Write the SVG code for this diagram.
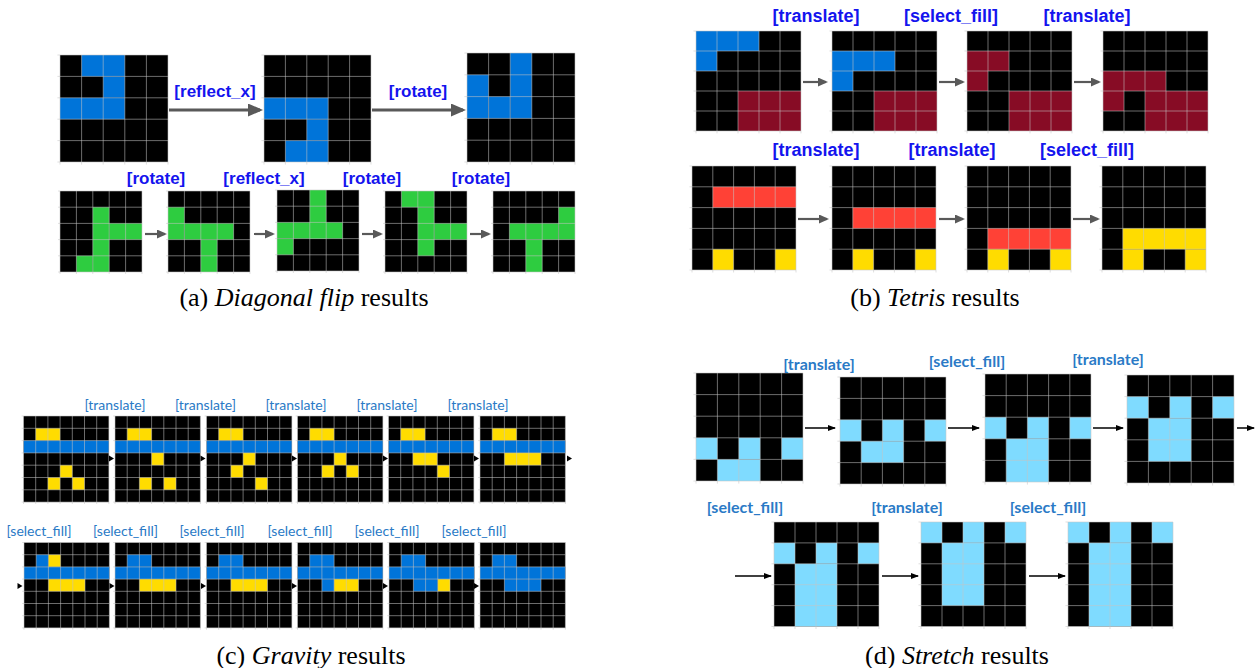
<svg xmlns="http://www.w3.org/2000/svg" xmlns:xlink="http://www.w3.org/1999/xlink" width="1256" height="668" viewBox="0 0 1256 668">
<style>
.k{fill:#000}
.B{fill:#0074D9}.M{fill:#870C25}.G{fill:#2ECC40}.R{fill:#FF4136}.Y{fill:#FFDC00}.L{fill:#7FDBFF}
.gl{fill:none;stroke:#c4c4c4;stroke-opacity:0.55;stroke-width:1;vector-effect:non-scaling-stroke}
.la{font-family:"Liberation Sans",Arial,sans-serif;font-weight:bold;fill:#1414ee;text-anchor:middle}
.lc{font-family:Lato,"Liberation Sans",Arial,sans-serif;font-size:14px;fill:#2a7ac6;text-anchor:middle}
.ld{font-family:Lato,"Liberation Sans",Arial,sans-serif;font-weight:bold;font-size:16px;fill:#2a7ac6;text-anchor:middle}
.cap{font-family:"Liberation Serif","Times New Roman",serif;font-size:26px;fill:#000;text-anchor:middle}
.ag{stroke:#595959;fill:none}
.ab{stroke:#000;fill:none;stroke-width:1.5}
</style>
<defs>
<rect id="k5" class="k" width="5" height="5"/>
<rect id="k7" class="k" width="7" height="7"/>
<path id="g5" class="gl" d="M0,0V5.12M1,0V5.12M2,0V5.12M3,0V5.12M4,0V5.12M5,0V5.12M-0.12,0H5M-0.12,1H5M-0.12,2H5M-0.12,3H5M-0.12,4H5M-0.12,5H5"/>
<path id="g7" class="gl" d="M0,0V7.15M1,0V7.15M2,0V7.15M3,0V7.15M4,0V7.15M5,0V7.15M6,0V7.15M7,0V7.15M-0.15,0H7M-0.15,1H7M-0.15,2H7M-0.15,3H7M-0.15,4H7M-0.15,5H7M-0.15,6H7M-0.15,7H7"/>
<marker id="mA" markerUnits="userSpaceOnUse" markerWidth="15" markerHeight="13" refX="12" refY="6.5" orient="auto"><path d="M0,0L15,6.5L0,13z" fill="#595959"/></marker>
<marker id="mS" markerUnits="userSpaceOnUse" markerWidth="10" markerHeight="9" refX="8" refY="4.5" orient="auto"><path d="M0,0L10,4.5L0,9z" fill="#595959"/></marker>
<marker id="mK" markerUnits="userSpaceOnUse" markerWidth="8" markerHeight="6" refX="7" refY="3" orient="auto"><path d="M0,0L8,3L0,6z" fill="#000"/></marker>
</defs>

<!-- Panel (a) -->
<g id="a1" transform="translate(60,55) scale(21.6,21.4)"><use href="#k5"/><rect class="B" x="1" y="0" width="2" height="1"/><rect class="B" x="2" y="1" width="1" height="1"/><rect class="B" x="0" y="2" width="3" height="1"/><use href="#g5"/></g>
<g id="a2" transform="translate(264,55) scale(21.4,21.4)"><use href="#k5"/><rect class="B" x="0" y="2" width="3" height="1"/><rect class="B" x="2" y="3" width="1" height="1"/><rect class="B" x="1" y="4" width="2" height="1"/><use href="#g5"/></g>
<g id="a3" transform="translate(467,53) scale(21.6,21.8)"><use href="#k5"/><rect class="B" x="2" y="0" width="1" height="3"/><rect class="B" x="0" y="1" width="1" height="2"/><rect class="B" x="1" y="2" width="1" height="1"/><use href="#g5"/></g>
<g id="a4" transform="translate(60,191) scale(16.4,16.2)"><use href="#k5"/><rect class="G" x="2" y="1" width="1" height="4"/><rect class="G" x="3" y="2" width="2" height="1"/><rect class="G" x="1" y="4" width="1" height="1"/><use href="#g5"/></g>
<g id="a5" transform="translate(168,191) scale(16.4,16.2)"><use href="#k5"/><rect class="G" x="0" y="1" width="1" height="2"/><rect class="G" x="1" y="2" width="3" height="1"/><rect class="G" x="2" y="3" width="1" height="2"/><use href="#g5"/></g>
<g id="a6" transform="translate(277,190) scale(16.4,16.2)"><use href="#k5"/><rect class="G" x="2" y="0" width="1" height="3"/><rect class="G" x="0" y="2" width="4" height="1"/><rect class="G" x="0" y="3" width="1" height="1"/><use href="#g5"/></g>
<g id="a7" transform="translate(385,191) scale(16.4,16.2)"><use href="#k5"/><rect class="G" x="1" y="0" width="2" height="1"/><rect class="G" x="2" y="1" width="1" height="3"/><rect class="G" x="3" y="2" width="2" height="1"/><use href="#g5"/></g>
<g id="a8" transform="translate(493,191) scale(16.4,16.2)"><use href="#k5"/><rect class="G" x="4" y="1" width="1" height="2"/><rect class="G" x="1" y="2" width="3" height="1"/><rect class="G" x="2" y="3" width="1" height="2"/><use href="#g5"/></g>

<!-- Panel (b) -->
<g id="b1" transform="translate(696,31) scale(21,20)"><use href="#k5"/><rect class="B" x="0" y="0" width="3" height="1"/><rect class="B" x="0" y="1" width="1" height="1"/><rect class="M" x="2" y="3" width="3" height="2"/><use href="#g5"/></g>
<g id="b2" transform="translate(832,31) scale(21,20)"><use href="#k5"/><rect class="B" x="0" y="1" width="3" height="1"/><rect class="B" x="0" y="2" width="1" height="1"/><rect class="M" x="2" y="3" width="3" height="2"/><use href="#g5"/></g>
<g id="b3" transform="translate(967,31) scale(21,20)"><use href="#k5"/><rect class="M" x="0" y="1" width="2" height="1"/><rect class="M" x="0" y="2" width="1" height="1"/><rect class="M" x="2" y="3" width="3" height="2"/><use href="#g5"/></g>
<g id="b4" transform="translate(1103,31) scale(21,20)"><use href="#k5"/><rect class="M" x="0" y="2" width="3" height="1"/><rect class="M" x="0" y="3" width="1" height="1"/><rect class="M" x="2" y="3" width="3" height="2"/><use href="#g5"/></g>
<g id="b5" transform="translate(692,166) scale(20.8,20.8)"><use href="#k5"/><rect class="R" x="1" y="1" width="4" height="1"/><rect class="Y" x="1" y="4" width="1" height="1"/><rect class="Y" x="4" y="4" width="1" height="1"/><use href="#g5"/></g>
<g id="b6" transform="translate(832,166) scale(20.8,20.8)"><use href="#k5"/><rect class="R" x="1" y="2" width="4" height="1"/><rect class="Y" x="1" y="4" width="1" height="1"/><rect class="Y" x="4" y="4" width="1" height="1"/><use href="#g5"/></g>
<g id="b7" transform="translate(967,166) scale(20.8,20.8)"><use href="#k5"/><rect class="R" x="1" y="3" width="4" height="1"/><rect class="Y" x="1" y="4" width="1" height="1"/><rect class="Y" x="4" y="4" width="1" height="1"/><use href="#g5"/></g>
<g id="b8" transform="translate(1102,166) scale(20.8,20.8)"><use href="#k5"/><rect class="Y" x="1" y="3" width="4" height="1"/><rect class="Y" x="1" y="4" width="1" height="1"/><rect class="Y" x="4" y="4" width="1" height="1"/><use href="#g5"/></g>

<!-- Panel (c) top -->
<g id="c1" transform="translate(23.5,416) scale(12.2,12.3)"><use href="#k7"/><rect class="Y" x="1" y="1" width="2" height="1"/><rect class="B" x="0" y="2" width="7" height="1"/><rect class="Y" x="3" y="4" width="1" height="1"/><rect class="Y" x="2" y="5" width="1" height="1"/><rect class="Y" x="4" y="5" width="1" height="1"/><use href="#g7"/></g>
<g id="c2" transform="translate(115,416) scale(12.2,12.3)"><use href="#k7"/><rect class="Y" x="1" y="1" width="2" height="1"/><rect class="B" x="0" y="2" width="7" height="1"/><rect class="Y" x="3" y="3" width="1" height="1"/><rect class="Y" x="2" y="5" width="1" height="1"/><rect class="Y" x="4" y="5" width="1" height="1"/><use href="#g7"/></g>
<g id="c3" transform="translate(206.5,416) scale(12.2,12.3)"><use href="#k7"/><rect class="Y" x="1" y="1" width="2" height="1"/><rect class="B" x="0" y="2" width="7" height="1"/><rect class="Y" x="3" y="3" width="1" height="1"/><rect class="Y" x="2" y="4" width="1" height="1"/><rect class="Y" x="4" y="5" width="1" height="1"/><use href="#g7"/></g>
<g id="c4" transform="translate(297.5,416) scale(12.2,12.3)"><use href="#k7"/><rect class="Y" x="1" y="1" width="2" height="1"/><rect class="B" x="0" y="2" width="7" height="1"/><rect class="Y" x="3" y="3" width="1" height="1"/><rect class="Y" x="2" y="4" width="1" height="1"/><rect class="Y" x="4" y="4" width="1" height="1"/><use href="#g7"/></g>
<g id="c5" transform="translate(388.5,416) scale(12.2,12.3)"><use href="#k7"/><rect class="Y" x="1" y="1" width="2" height="1"/><rect class="B" x="0" y="2" width="7" height="1"/><rect class="Y" x="2" y="3" width="2" height="1"/><rect class="Y" x="4" y="4" width="1" height="1"/><use href="#g7"/></g>
<g id="c6" transform="translate(480,416) scale(12.2,12.3)"><use href="#k7"/><rect class="Y" x="1" y="1" width="2" height="1"/><rect class="B" x="0" y="2" width="7" height="1"/><rect class="Y" x="2" y="3" width="3" height="1"/><use href="#g7"/></g>
<!-- Panel (c) bottom -->
<g id="c7" transform="translate(24,542.5) scale(12.2,12.2)"><use href="#k7"/><rect class="B" x="1" y="1" width="1" height="1"/><rect class="Y" x="2" y="1" width="1" height="1"/><rect class="B" x="0" y="2" width="7" height="1"/><rect class="Y" x="2" y="3" width="3" height="1"/><use href="#g7"/></g>
<g id="c8" transform="translate(115,542.5) scale(12.2,12.2)"><use href="#k7"/><rect class="B" x="1" y="1" width="2" height="1"/><rect class="B" x="0" y="2" width="7" height="1"/><rect class="Y" x="2" y="3" width="3" height="1"/><use href="#g7"/></g>
<g id="c9" transform="translate(206.5,542.5) scale(12.2,12.2)"><use href="#k7"/><rect class="B" x="1" y="1" width="2" height="1"/><rect class="B" x="0" y="2" width="7" height="1"/><rect class="Y" x="2" y="3" width="3" height="1"/><use href="#g7"/></g>
<g id="c10" transform="translate(297.5,542.5) scale(12.2,12.2)"><use href="#k7"/><rect class="B" x="1" y="1" width="2" height="1"/><rect class="B" x="0" y="2" width="7" height="1"/><rect class="B" x="2" y="3" width="1" height="1"/><rect class="Y" x="3" y="3" width="2" height="1"/><use href="#g7"/></g>
<g id="c11" transform="translate(389,542.5) scale(12.2,12.2)"><use href="#k7"/><rect class="B" x="1" y="1" width="2" height="1"/><rect class="B" x="0" y="2" width="7" height="1"/><rect class="B" x="2" y="3" width="2" height="1"/><rect class="Y" x="4" y="3" width="1" height="1"/><use href="#g7"/></g>
<g id="c12" transform="translate(480,542.5) scale(12.2,12.2)"><use href="#k7"/><rect class="B" x="1" y="1" width="2" height="1"/><rect class="B" x="0" y="2" width="7" height="1"/><rect class="B" x="2" y="3" width="3" height="1"/><use href="#g7"/></g>

<!-- Panel (d) -->
<g id="d1" transform="translate(696,373) scale(21.4,21.6)"><use href="#k5"/><rect class="L" x="0" y="3" width="1" height="1"/><rect class="L" x="2" y="3" width="1" height="1"/><rect class="L" x="4" y="3" width="1" height="1"/><rect class="L" x="1" y="4" width="2" height="1"/><use href="#g5"/></g>
<g id="d2" transform="translate(840,377) scale(21.2,21.4)"><use href="#k5"/><rect class="L" x="0" y="2" width="1" height="1"/><rect class="L" x="2" y="2" width="1" height="1"/><rect class="L" x="4" y="2" width="1" height="1"/><rect class="L" x="1" y="3" width="2" height="1"/><use href="#g5"/></g>
<g id="d3" transform="translate(985,374) scale(21.2,21.6)"><use href="#k5"/><rect class="L" x="0" y="2" width="1" height="1"/><rect class="L" x="2" y="2" width="1" height="1"/><rect class="L" x="4" y="2" width="1" height="1"/><rect class="L" x="1" y="3" width="2" height="2"/><use href="#g5"/></g>
<g id="d4" transform="translate(1127,375) scale(21.4,21.6)"><use href="#k5"/><rect class="L" x="0" y="1" width="1" height="1"/><rect class="L" x="2" y="1" width="1" height="1"/><rect class="L" x="4" y="1" width="1" height="1"/><rect class="L" x="1" y="2" width="2" height="2"/><use href="#g5"/></g>
<g id="d5" transform="translate(774,522) scale(21,20.9)"><use href="#k5"/><rect class="L" x="0" y="1" width="1" height="1"/><rect class="L" x="2" y="1" width="1" height="1"/><rect class="L" x="4" y="1" width="1" height="1"/><rect class="L" x="1" y="2" width="2" height="3"/><use href="#g5"/></g>
<g id="d6" transform="translate(921,522) scale(21,20.9)"><use href="#k5"/><rect class="L" x="0" y="0" width="1" height="1"/><rect class="L" x="2" y="0" width="1" height="1"/><rect class="L" x="4" y="0" width="1" height="1"/><rect class="L" x="1" y="1" width="2" height="3"/><use href="#g5"/></g>
<g id="d7" transform="translate(1068,522) scale(21,20.9)"><use href="#k5"/><rect class="L" x="0" y="0" width="1" height="1"/><rect class="L" x="2" y="0" width="1" height="1"/><rect class="L" x="4" y="0" width="1" height="1"/><rect class="L" x="1" y="1" width="2" height="4"/><use href="#g5"/></g>

<!-- connectors -->
<g id="connectors">
<line class="ag" stroke-width="3" x1="169" y1="110" x2="260" y2="110" marker-end="url(#mA)"/>
<line class="ag" stroke-width="3" x1="372" y1="110" x2="463" y2="110" marker-end="url(#mA)"/>
<line class="ag" stroke-width="2.2" x1="145" y1="234" x2="165" y2="234" marker-end="url(#mS)"/>
<line class="ag" stroke-width="2.2" x1="254" y1="234" x2="273" y2="234" marker-end="url(#mS)"/>
<line class="ag" stroke-width="2.2" x1="362" y1="234" x2="381" y2="234" marker-end="url(#mS)"/>
<line class="ag" stroke-width="2.2" x1="470" y1="234" x2="489" y2="234" marker-end="url(#mS)"/>
<line class="ag" stroke-width="2.2" x1="803" y1="82" x2="826" y2="82" marker-end="url(#mS)"/>
<line class="ag" stroke-width="2.2" x1="939" y1="82" x2="963" y2="82" marker-end="url(#mS)"/>
<line class="ag" stroke-width="2.2" x1="1074" y1="82" x2="1099" y2="82" marker-end="url(#mS)"/>
<line class="ag" stroke-width="2.2" x1="798" y1="219" x2="827" y2="219" marker-end="url(#mS)"/>
<line class="ag" stroke-width="2.2" x1="939" y1="219" x2="963" y2="219" marker-end="url(#mS)"/>
<line class="ag" stroke-width="2.2" x1="1073" y1="219" x2="1098" y2="219" marker-end="url(#mS)"/>
<g fill="#000">
<path d="M109,455.5L114,458.5L109,461.5z"/><path d="M200.5,455.5L205.5,458.5L200.5,461.5z"/><path d="M292,455.5L297,458.5L292,461.5z"/><path d="M383,455.5L388,458.5L383,461.5z"/><path d="M474,455.5L479,458.5L474,461.5z"/><path d="M567,455.5L572,458.5L567,461.5z"/>
<path d="M17.5,583L22.5,586L17.5,589z"/><path d="M109.5,583L114.5,586L109.5,589z"/><path d="M201,583L206,586L201,589z"/><path d="M292,583L297,586L292,589z"/><path d="M383,583L388,586L383,589z"/><path d="M474,583L479,586L474,589z"/>
</g>
<line class="ab" x1="805" y1="428" x2="835" y2="428" marker-end="url(#mK)"/>
<line class="ab" x1="948" y1="428" x2="979" y2="428" marker-end="url(#mK)"/>
<line class="ab" x1="1093" y1="428" x2="1123" y2="428" marker-end="url(#mK)"/>
<line class="ab" x1="1237" y1="428" x2="1254" y2="428" marker-end="url(#mK)"/>
<line class="ab" x1="735" y1="576" x2="771" y2="576" marker-end="url(#mK)"/>
<line class="ab" x1="882" y1="576" x2="918" y2="576" marker-end="url(#mK)"/>
<line class="ab" x1="1029" y1="576" x2="1065" y2="576" marker-end="url(#mK)"/>
</g>

<!-- labels -->
<g id="labels">
<text class="la" font-size="17" x="215" y="96.5">[reflect_x]</text>
<text class="la" font-size="17" x="418" y="96.5">[rotate]</text>
<text class="la" font-size="17" x="156" y="183.5">[rotate]</text>
<text class="la" font-size="17" x="264" y="183.5">[reflect_x]</text>
<text class="la" font-size="17" x="372" y="183.5">[rotate]</text>
<text class="la" font-size="17" x="481" y="183.5">[rotate]</text>
<text class="la" font-size="18" x="816" y="21.5">[translate]</text>
<text class="la" font-size="18" x="951" y="21.5">[select_fill]</text>
<text class="la" font-size="18" x="1087" y="21.5">[translate]</text>
<text class="la" font-size="18" x="816" y="156">[translate]</text>
<text class="la" font-size="18" x="952" y="156">[translate]</text>
<text class="la" font-size="18" x="1087" y="156">[select_fill]</text>
<text class="lc" x="115" y="410">[translate]</text>
<text class="lc" x="205.5" y="410">[translate]</text>
<text class="lc" x="296" y="410">[translate]</text>
<text class="lc" x="387" y="410">[translate]</text>
<text class="lc" x="478" y="410">[translate]</text>
<text class="lc" x="39" y="535.5">[select_fill]</text>
<text class="lc" x="125.5" y="535.5">[select_fill]</text>
<text class="lc" x="212" y="535.5">[select_fill]</text>
<text class="lc" x="300" y="535.5">[select_fill]</text>
<text class="lc" x="387" y="535.5">[select_fill]</text>
<text class="lc" x="474" y="535.5">[select_fill]</text>
<text class="ld" x="819" y="369.5">[translate]</text>
<text class="ld" x="967" y="366.5">[select_fill]</text>
<text class="ld" x="1108" y="364.5">[translate]</text>
<text class="ld" x="745" y="512.5">[select_fill]</text>
<text class="ld" x="907" y="512.5">[translate]</text>
<text class="ld" x="1048" y="512.5">[select_fill]</text>
</g>

<!-- captions -->
<g id="captions">
<text class="cap" x="304" y="306">(a)  <tspan font-style="italic">Diagonal flip</tspan> results</text>
<text class="cap" x="935" y="306">(b)  <tspan font-style="italic">Tetris</tspan> results</text>
<text class="cap" x="311" y="664">(c)  <tspan font-style="italic">Gravity</tspan> results</text>
<text class="cap" x="957" y="664">(d)  <tspan font-style="italic">Stretch</tspan> results</text>
</g>
</svg>
